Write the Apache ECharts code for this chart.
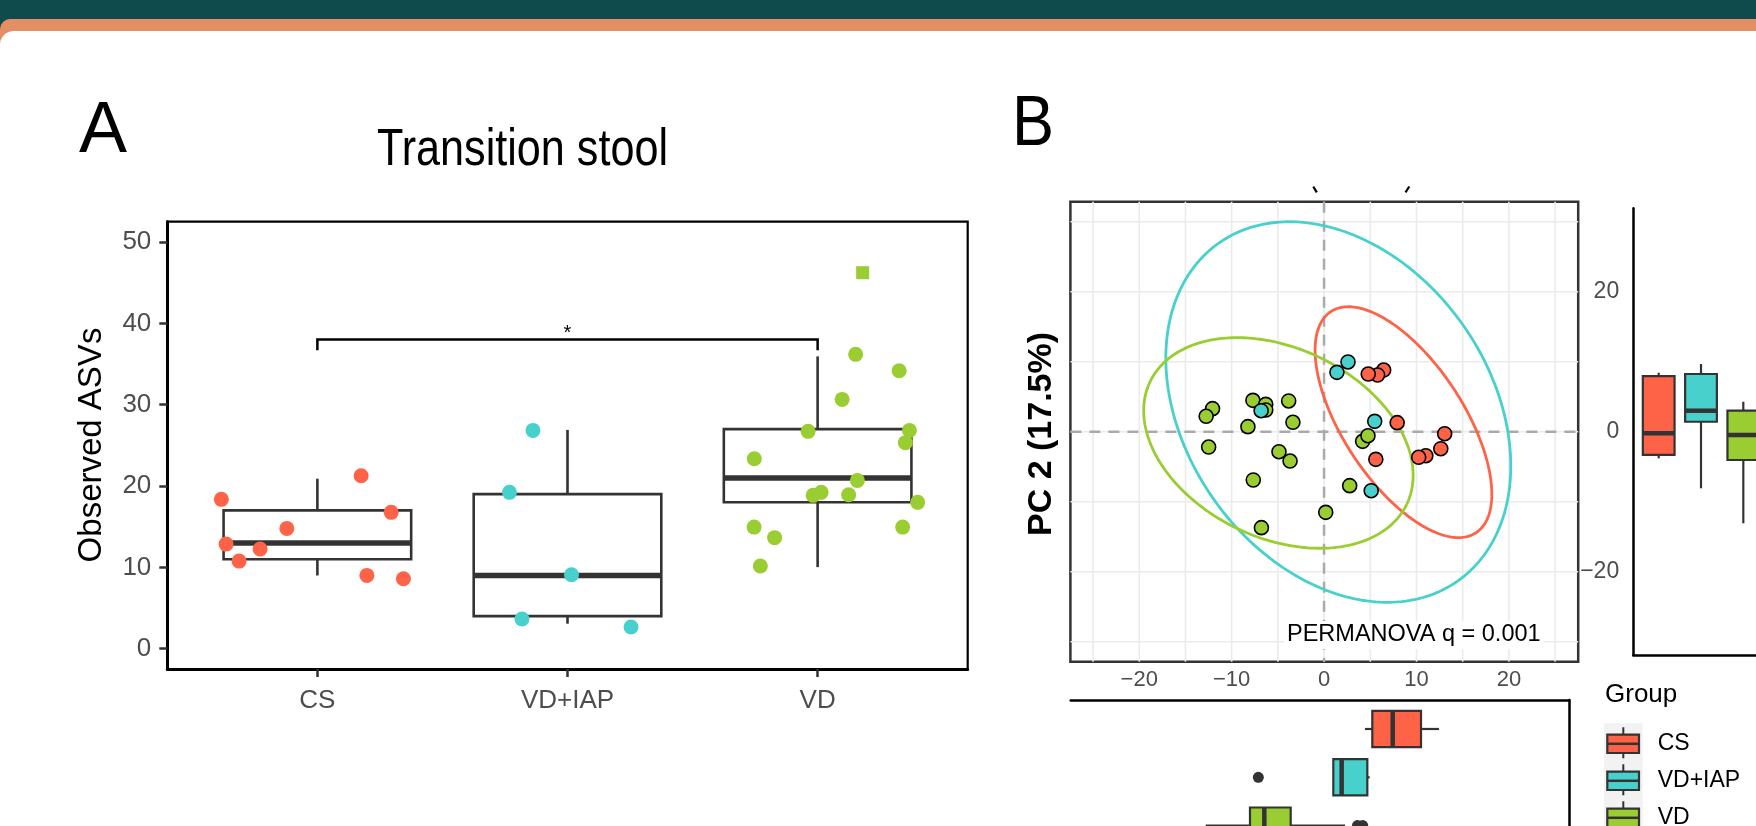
<!DOCTYPE html>
<html><head><meta charset="utf-8">
<script src="https://cdn.jsdelivr.net/npm/echarts@6/dist/echarts.min.js"></script>
<style>
html,body{margin:0;padding:0;width:1756px;height:826px;overflow:hidden;background:#0F4A4C;}
#orange{position:absolute;left:0;top:19px;width:1800px;height:900px;background:#E38E63;border-top-left-radius:10px;}
#white{position:absolute;left:0;top:31px;width:1800px;height:900px;background:#fff;border-top-left-radius:14px;}
#chart{position:absolute;left:0;top:0;width:1756px;height:826px;}
</style></head><body>
<div id="orange"></div><div id="white"></div><div id="chart"></div>
<script>
// ---------- DATA ----------
const groups = ['CS', 'VD+IAP', 'VD'];
// Panel A: observed ASVs, [jittered x position, value]
const asvCS = [[0.616,18.36],[0.635,12.86],[0.687,10.77],[0.771,12.25],[0.878,14.79],[1.175,21.27],[1.295,16.76],[1.198,9.01],[1.344,8.6]];
const asvVDIAP = [[1.862,26.84],[1.768,19.22],[1.818,3.64],[2.016,9.09],[2.254,2.66]];
const asvVD = [[3.152,36.19],[3.326,34.18],[3.098,30.65],[2.962,26.72],[3.367,26.84],[3.351,25.33],[2.747,23.36],[3.159,20.69],[3.014,19.22],[2.982,18.85],[3.124,18.93],[3.4,17.99],[2.746,14.95],[3.34,14.95],[2.828,13.65],[2.771,10.16]];
const asvOutliers = [[3.18,46.23]];
// box stats: [group position, lower whisker, Q1, median, Q3, upper whisker]
const asvBoxStats = [[1,9.0,11.0,13.0,17.0,20.9],[2,3.07,4.0,9.0,19.0,26.9],[3,10.03,18.0,21.0,27.0,35.94]];
const asvTicks = [0,10,20,30,40,50];
// significance bracket: [from group, to group, tick bottom, bracket height]
const sigBracket = [[1,3,36.7,38.0]];
const sigLabel = '*';

// Panel B: PCA scores [PC1, PC2]
const pcaCS = [[6.45,8.81],[5.79,8.1],[4.78,8.24],[7.91,1.29],[13.05,-0.29],[12.63,-2.43],[11.01,-3.43],[10.24,-3.66],[5.6,-3.95]];
const pcaVDIAP = [[2.59,9.96],[1.39,8.48],[-6.81,3.0],[5.48,1.48],[5.1,-8.43]];
const pcaVD = [[-12.07,3.29],[-12.76,2.2],[-7.7,4.48],[-6.31,3.91],[-6.31,3.1],[-3.83,4.39],[-8.24,0.72],[-3.37,1.34],[-12.49,-2.19],[-4.88,-2.86],[-3.68,-4.19],[-7.66,-6.9],[-6.78,-13.71],[0.18,-11.52],[2.77,-7.71],[4.17,-1.38],[4.75,-0.57]];
// ellipses per group: [centre PC1, centre PC2, major-axis end PC1, PC2, minor-axis end PC1, PC2]
const pcaEllipses = [[8.59,1.36,16.44,-14.44,3.13,-3.37],[1.54,2.81,14.51,-21.29,-11.88,-9.77],[-4.94,-1.61,8.96,-10.33,-9.34,-13.87]];
const pcaTicksX = [-20,-10,0,10,20];
const pcaTicksY = [-20,0,20];
const pcaGridX = [-25,-20,-15,-10,-5,0,5,10,15,20,25];
const pcaGridY = [-30,-20,-10,0,10,20,30];
const pcaZero = [0];
const permanovaText = 'PERMANOVA q = 0.001';
const pc2Title = 'PC 2 (17.5%)';
// marginal boxplots: [group position, lower whisker, Q1, median, Q3, upper whisker]
const margPC2Stats = [[1,-3.92,-3.43,-0.24,8.18,8.67],[2,-8.33,1.46,3.08,8.48,9.95],[3,-13.48,-4.17,-0.49,3.08,4.4]];
const margPC1Stats = [[1,5.0,5.81,8.06,11.18,13.17],[2,1.51,1.51,2.43,5.26,5.52],[3,-12.56,-7.68,-6.1,-3.19,2.81]];
const margPC1Outliers = [[-6.76,2],[4.17,3],[4.75,3]];

// ---------- STYLE ----------
const COLORS = ['#FF6347','#48D1CC','#9ACD32'];
const FONT = 'Liberation Sans, Arial, sans-serif';
const PCA_X = [-27.45, 27.5], PCA_Y = [-32.86, 32.86];

function seg(p, q){ return {x1:p[0], y1:p[1], x2:q[0], y2:q[1]}; }

function boxSeries(xi, yi, stats, horizontal, halfW, fills, lw, medLw){
  return {
    type:'custom', xAxisIndex:xi, yAxisIndex:yi, z:3, silent:true,
    data: stats,
    encode: horizontal ? {y:0, x:[1,2,3,4,5]} : {x:0, y:[1,2,3,4,5]},
    renderItem: function(params, api){
      const pos = api.value(0), lo = api.value(1), q1 = api.value(2), md = api.value(3), q3 = api.value(4), hi = api.value(5);
      const P = horizontal ? (v,o) => api.coord([v, pos+o]) : (v,o) => api.coord([pos+o, v]);
      const a = P(q1, -halfW), b = P(q3, halfW);
      const fill = fills ? fills[params.dataIndex] : 'none';
      const ls = {stroke:'#333333', lineWidth:lw};
      return {type:'group', children:[
        {type:'line', shape:seg(P(lo,0), P(q1,0)), style:ls},
        {type:'line', shape:seg(P(q3,0), P(hi,0)), style:ls},
        {type:'rect', shape:{x:Math.min(a[0],b[0]), y:Math.min(a[1],b[1]), width:Math.abs(b[0]-a[0]), height:Math.abs(b[1]-a[1])}, style:{fill:fill, stroke:'#333333', lineWidth:lw}},
        {type:'line', shape:seg(P(md,-halfW), P(md,halfW)), style:{stroke:'#333333', lineWidth:medLw}}
      ]};
    }
  };
}

function gridLineSeries(values, vertical, color, width, dash){
  return {
    type:'custom', xAxisIndex:1, yAxisIndex:1, z:1, silent:true,
    data: values.map(v => vertical ? [v, 0] : [0, v]),
    encode:{x:0, y:1},
    renderItem: function(params, api){
      const cs = params.coordSys;
      const p = api.coord([api.value(0), api.value(1)]);
      const shape = vertical ? {x1:p[0], y1:cs.y, x2:p[0], y2:cs.y+cs.height} : {x1:cs.x, y1:p[1], x2:cs.x+cs.width, y2:p[1]};
      return {type:'line', shape:shape, style:{stroke:color, lineWidth:width, lineDash:dash || null}};
    }
  };
}

const option = {
  animation:false,
  backgroundColor:'transparent',
  grid:[
    {left:167.3, top:221.7, width:800.4, height:447.3, show:true, borderColor:'#000', borderWidth:2.2, backgroundColor:'transparent', outerBoundsMode:'none'},
    {left:1070.4, top:201.7, width:507.8, height:460, show:true, borderColor:'#333333', borderWidth:2.5, backgroundColor:'transparent', outerBoundsMode:'none'},
    {left:1633.3, top:208.3, width:135.4, height:446.7, outerBoundsMode:'none'},
    {left:1070.7, top:700, width:498.3, height:154.6, outerBoundsMode:'none'}
  ],
  xAxis:[
    {gridIndex:0, type:'value', min:0.4, max:3.6,
      axisLine:{onZero:false, lineStyle:{color:'#000', width:3}},
      axisTick:{customValues:[1,2,3], length:8, lineStyle:{color:'#333333', width:2.5}},
      axisLabel:{customValues:[1,2,3], formatter:v => groups[Math.round(v)-1], color:'#4D4D4D', fontSize:26, fontFamily:FONT, margin:19},
      splitLine:{show:false}},
    {gridIndex:1, type:'value', min:PCA_X[0], max:PCA_X[1],
      axisLine:{show:false, onZero:false}, axisTick:{show:false},
      axisLabel:{customValues:pcaTicksX, formatter:v => String(v).replace('-', '\u2212'), color:'#4D4D4D', fontSize:22, fontFamily:FONT, margin:7},
      splitLine:{show:false}},
    {gridIndex:2, type:'value', min:0.4, max:3.6, axisLine:{show:true, onZero:false, lineStyle:{color:'#000', width:2.5}}, axisTick:{show:false}, axisLabel:{show:false}, splitLine:{show:false}},
    {gridIndex:3, type:'value', position:'top', min:PCA_X[0], max:PCA_X[1], axisLine:{show:true, onZero:false, lineStyle:{color:'#000', width:2.5}}, axisTick:{show:false}, axisLabel:{show:false}, splitLine:{show:false}}
  ],
  yAxis:[
    {gridIndex:0, type:'value', min:-2.5, max:52.5,
      axisLine:{onZero:false, lineStyle:{color:'#000', width:3}},
      axisTick:{customValues:asvTicks, length:8, lineStyle:{color:'#333333', width:2.5}},
      axisLabel:{customValues:asvTicks, color:'#4D4D4D', fontSize:26, fontFamily:FONT, margin:16},
      splitLine:{show:false}},
    {gridIndex:1, type:'value', position:'right', min:PCA_Y[0], max:PCA_Y[1],
      axisLine:{show:false, onZero:false}, axisTick:{show:false},
      axisLabel:{customValues:pcaTicksY, formatter:v => String(v).replace('-', '\u2212'), color:'#4D4D4D', fontSize:23, fontFamily:FONT, margin:41, align:'right'},
      splitLine:{show:false}},
    {gridIndex:2, type:'value', min:PCA_Y[0], max:PCA_Y[1], axisLine:{show:true, onZero:false, lineStyle:{color:'#000', width:2.5}}, axisTick:{show:false}, axisLabel:{show:false}, splitLine:{show:false}},
    {gridIndex:3, type:'value', position:'right', inverse:true, min:0.4, max:3.6, axisLine:{show:true, onZero:false, lineStyle:{color:'#000', width:2.5}}, axisTick:{show:false}, axisLabel:{show:false}, splitLine:{show:false}}
  ],
  series:[
    // ----- Panel A -----
    boxSeries(0, 0, asvBoxStats, false, 0.375, null, 2.6, 5.5),
    {type:'scatter', xAxisIndex:0, yAxisIndex:0, z:4, data:asvCS, symbolSize:15, itemStyle:{color:COLORS[0], opacity:1}},
    {type:'scatter', xAxisIndex:0, yAxisIndex:0, z:4, data:asvVDIAP, symbolSize:15, itemStyle:{color:COLORS[1], opacity:1}},
    {type:'scatter', xAxisIndex:0, yAxisIndex:0, z:4, data:asvVD, symbolSize:15, itemStyle:{color:COLORS[2], opacity:1}},
    {type:'scatter', xAxisIndex:0, yAxisIndex:0, z:4, data:asvOutliers, symbol:'rect', symbolSize:13, itemStyle:{color:COLORS[2], opacity:1}},
    {type:'custom', xAxisIndex:0, yAxisIndex:0, z:3, silent:true, data:sigBracket, encode:{x:[0,1], y:[2,3]},
      renderItem: function(params, api){
        const x1 = api.value(0), x2 = api.value(1), yb = api.value(2), yt = api.value(3);
        const pts = [api.coord([x1,yb]), api.coord([x1,yt]), api.coord([x2,yt]), api.coord([x2,yb])];
        const mid = api.coord([(x1+x2)/2, yt]);
        return {type:'group', children:[
          {type:'polyline', shape:{points:pts}, style:{stroke:'#000', lineWidth:2.5, fill:'none'}},
          {type:'text', x:mid[0], y:mid[1]-6, style:{text:sigLabel, font:'20px ' + FONT, fill:'#000', align:'center', verticalAlign:'middle'}}
        ]};
      }},
    // ----- Panel B: PCA -----
    gridLineSeries(pcaGridX, true, '#EBEBEB', 1.6),
    gridLineSeries(pcaGridY, false, '#EBEBEB', 1.6),
    gridLineSeries(pcaZero, true, '#AAAAAA', 2.5, [11, 8]),
    gridLineSeries(pcaZero, false, '#AAAAAA', 2.5, [11, 8]),
    {type:'custom', xAxisIndex:1, yAxisIndex:1, z:2, silent:true, data:pcaEllipses, encode:{x:[0,2,4], y:[1,3,5]},
      renderItem: function(params, api){
        const c = api.coord([api.value(0), api.value(1)]);
        const m = api.coord([api.value(2), api.value(3)]);
        const n = api.coord([api.value(4), api.value(5)]);
        const u = [m[0]-c[0], m[1]-c[1]], w = [n[0]-c[0], n[1]-c[1]];
        const pts = [];
        for (let i = 0; i <= 240; i++) {
          const t = i / 240 * 2 * Math.PI;
          pts.push([c[0] + u[0]*Math.cos(t) + w[0]*Math.sin(t), c[1] + u[1]*Math.cos(t) + w[1]*Math.sin(t)]);
        }
        return {type:'polyline', shape:{points:pts}, style:{stroke:COLORS[params.dataIndex], lineWidth:2.8, fill:'none'}};
      }},
    {type:'scatter', xAxisIndex:1, yAxisIndex:1, z:4, data:pcaVD, symbolSize:14, itemStyle:{color:COLORS[2], borderColor:'#000', borderWidth:1.6, opacity:1}},
    {type:'scatter', xAxisIndex:1, yAxisIndex:1, z:4, data:pcaCS, symbolSize:14, itemStyle:{color:COLORS[0], borderColor:'#000', borderWidth:1.6, opacity:1}},
    {type:'scatter', xAxisIndex:1, yAxisIndex:1, z:4, data:pcaVDIAP, symbolSize:14, itemStyle:{color:COLORS[1], borderColor:'#000', borderWidth:1.6, opacity:1}},
    // ----- marginal boxplots -----
    boxSeries(2, 2, margPC2Stats, false, 0.375, COLORS, 2.2, 4.5),
    boxSeries(3, 3, margPC1Stats, true, 0.375, COLORS, 2.2, 4.5),
    {type:'scatter', xAxisIndex:3, yAxisIndex:3, z:4, data:margPC1Outliers, symbolSize:11, itemStyle:{color:'#333333', opacity:1}}
  ],
  graphic:[
    {type:'text', x:79, y:132, style:{text:'A', font:'72px ' + FONT, fill:'#000', align:'left', verticalAlign:'middle'}},
    {type:'text', x:1012, y:126, scaleX:0.9, style:{text:'B', font:'70px ' + FONT, fill:'#000', align:'left', verticalAlign:'middle'}},
    {type:'text', x:522.5, y:151, scaleX:0.83, style:{text:'Transition stool', font:'52px ' + FONT, fill:'#000', align:'center', verticalAlign:'middle'}},
    {type:'text', x:92, y:445, rotation:Math.PI/2, style:{text:'Observed ASVs', font:'33px ' + FONT, fill:'#000', align:'center', verticalAlign:'middle'}},
    {type:'text', x:1042, y:434, rotation:Math.PI/2, style:{text:pc2Title, font:'bold 34px ' + FONT, fill:'#000', align:'center', verticalAlign:'middle'}},
    {type:'text', x:1543.6, y:635, z:10, style:{text:permanovaText, font:'23.5px ' + FONT, fill:'#000', align:'right', verticalAlign:'middle', backgroundColor:'#fff', padding:[2,3,2,3]}},
    {type:'line', shape:{x1:1313.3, y1:186.7, x2:1316.8, y2:192.3}, style:{stroke:'#000', lineWidth:2.2}},
    {type:'line', shape:{x1:1409.3, y1:186.5, x2:1405.5, y2:192.3}, style:{stroke:'#000', lineWidth:2.2}},
    // legend
    {type:'text', x:1605, y:695, style:{text:'Group', font:'26px ' + FONT, fill:'#000', align:'left', verticalAlign:'middle'}},
    {type:'rect', shape:{x:1604, y:723.3, width:38.7, height:130}, style:{fill:'#F2F2F2'}},
    ...groups.flatMap((g, i) => {
      const cy = 743.8 + 37 * i;
      return [
        {type:'line', shape:{x1:1623.3, y1:cy-16.5, x2:1623.3, y2:cy+14.5}, style:{stroke:'#333333', lineWidth:2}},
        {type:'rect', shape:{x:1607.3, y:cy-9.2, width:31.7, height:18.4}, style:{fill:COLORS[i], stroke:'#333333', lineWidth:2.2}},
        {type:'line', shape:{x1:1607.3, y1:cy, x2:1639, y2:cy}, style:{stroke:'#333333', lineWidth:2.5}},
        {type:'text', x:1657.7, y:cy-0.5, style:{text:g, font:'23px ' + FONT, fill:'#000', align:'left', verticalAlign:'middle'}}
      ];
    })
  ]
};

const chart = echarts.init(document.getElementById('chart'), null, {renderer:'canvas'});
chart.setOption(option);
</script></body></html>
